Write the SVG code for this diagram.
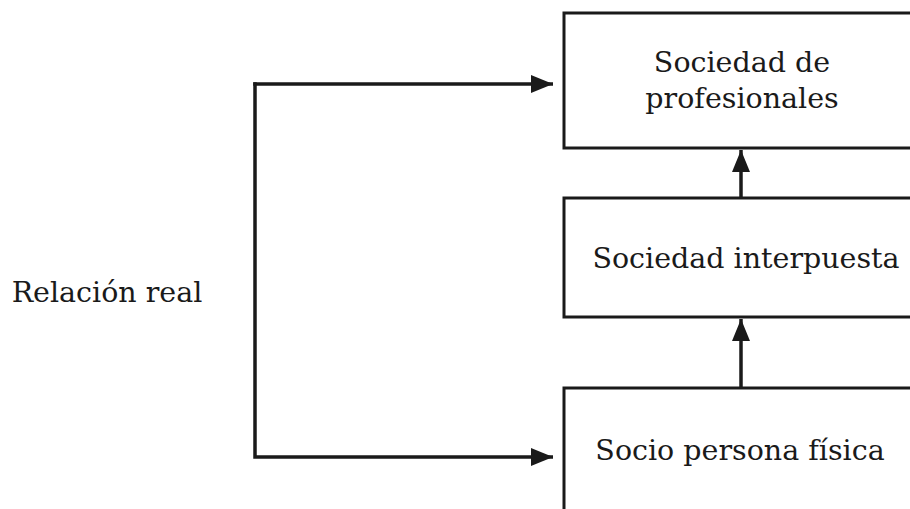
<svg xmlns="http://www.w3.org/2000/svg" width="910" height="509" viewBox="0 0 910 509">
<style>
.box{fill:#fff;stroke:#1a1a1a;stroke-width:3}
.lbl{font-family:"DejaVu Serif","Liberation Serif",serif;font-size:28.5px;fill:#1a1a1a;text-anchor:middle}
.con{fill:none;stroke:#1a1a1a;stroke-width:3.5}
</style>
<defs>
<marker id="ah" markerUnits="userSpaceOnUse" markerWidth="24" markerHeight="22" refX="22" refY="11" orient="auto">
<path d="M0,2 L22,11 L0,20 Z" fill="#1a1a1a"/>
</marker>
</defs>
<rect width="910" height="509" fill="#fff"/>
<g id="n1"><rect class="box" x="564" y="13" width="360" height="135"/>
<text class="lbl" x="742" y="72">Sociedad de</text>
<text class="lbl" x="742" y="108">profesionales</text></g>
<g id="n2"><rect class="box" x="564" y="198" width="360" height="119"/>
<text class="lbl" x="746" y="268">Sociedad interpuesta</text></g>
<g id="n3"><rect class="box" x="564" y="388" width="360" height="140"/>
<text class="lbl" x="740" y="460">Socio persona física</text></g>
<g id="n4"><text class="lbl" x="107" y="302">Relación real</text></g>
<g id="connectors">
<path class="con" d="M741,198 V150" marker-end="url(#ah)"/>
<path class="con" d="M741,388 V319" marker-end="url(#ah)"/>
<path class="con" d="M253.25,84 H553" marker-end="url(#ah)"/>
<path class="con" d="M255,82.25 V457 H553" marker-end="url(#ah)"/>
</g>
</svg>
